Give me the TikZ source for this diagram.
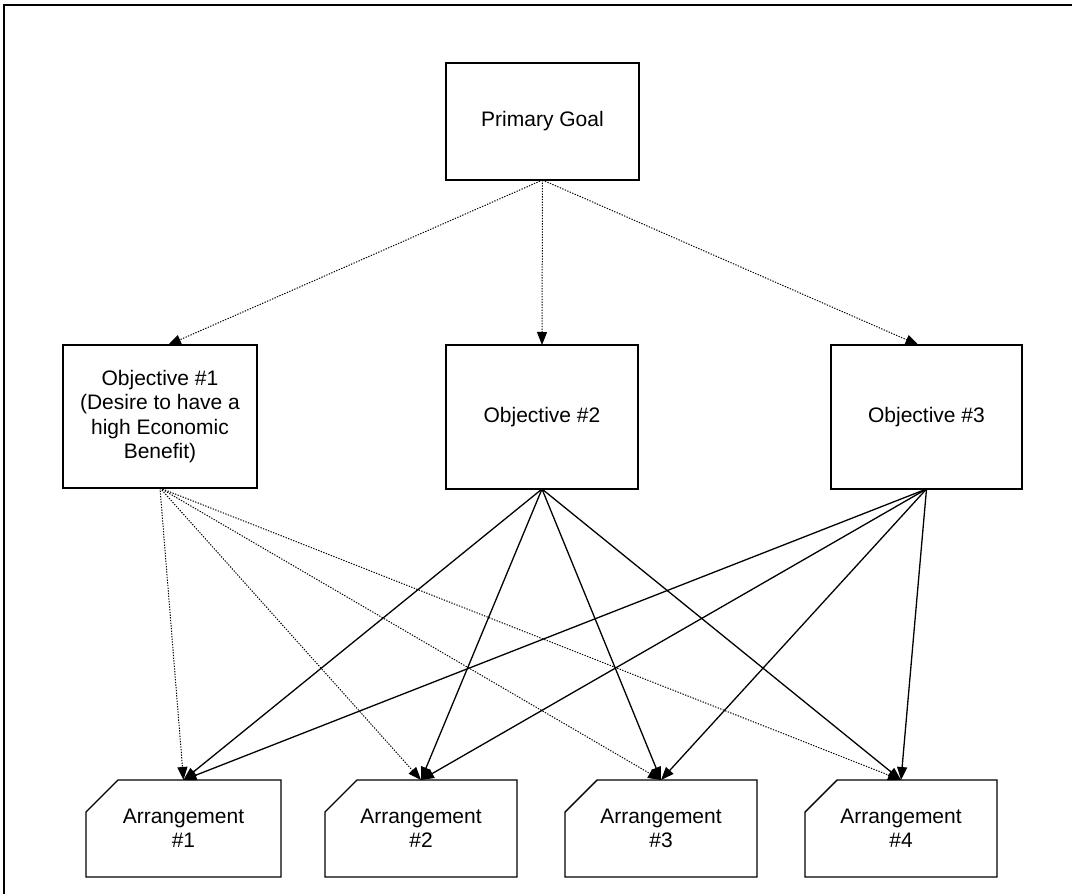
\documentclass[tikz,border=0pt]{standalone}
\usepackage{fontspec}
\setmainfont{Liberation Sans}
\usetikzlibrary{arrows.meta,calc}
\begin{document}
\begin{tikzpicture}[x=1pt,y=-1pt,
  label font/.style={font=\fontsize{21}{24.5}\selectfont},
  goalbox/.style={draw, line width=1.4pt, inner sep=0pt, outer sep=0pt,
    align=center, label font},
  arrbox/.style={inner sep=0pt, outer sep=0pt, align=center, label font,
    minimum height=97pt},
  chamfer/.style={draw, line width=1.4pt, line join=miter},
  tip/.style={-{Triangle[length=13pt,width=10pt]}},
  dotlink/.style={tip, line width=1pt, dash pattern=on 1.3pt off 1.4pt},
  solidlink/.style={tip, line width=1.3pt},
  frame/.style={draw, line width=2pt}
]
\useasboundingbox (0,0) rectangle (1072,894);
\clip (0,0) rectangle (1072,894);

% outer frame (only the top and left edges fall inside the page)
\draw[frame] (4,900) -- (4,5) -- (1090,5);

% goal and objectives
\node[goalbox, minimum width=193pt, minimum height=117pt] (pg) at (542.5,121.5) {Primary Goal};
\node[goalbox, minimum width=194pt, minimum height=143pt] (o1) at (160,416.5)
  {Objective \#1\\(Desire to have a\\high Economic\\Benefit)};
\node[goalbox, minimum width=192pt, minimum height=144pt] (o2) at (542,417) {Objective \#2};
\node[goalbox, minimum width=191pt, minimum height=144pt] (o3) at (926.5,417) {Objective \#3};

% arrangements (boxes with a cut top-left corner)
\node[arrbox, minimum width=195pt] (a1) at (183.5,828.5) {Arrangement\\\#1};
\node[arrbox, minimum width=192pt] (a2) at (421,828.5) {Arrangement\\\#2};
\node[arrbox, minimum width=192pt] (a3) at (661,828.5) {Arrangement\\\#3};
\node[arrbox, minimum width=192pt] (a4) at (901,828.5) {Arrangement\\\#4};
\foreach \a in {a1,a2,a3,a4}{
  \draw[chamfer] ($(\a.north west)+(32,0)$) -- (\a.north east) -- (\a.south east)
    -- (\a.south west) -- ($(\a.north west)+(0,32)$) -- cycle;
}

% goal to objectives
\coordinate (o1in) at ($(o1.north)+(8,0)$);
\coordinate (o3in) at ($(o3.north)+(-8,0)$);
\draw[dotlink] (pg.south) -- (o1in);
\draw[dotlink] (pg.south) -- (o2.north);
\draw[dotlink] (pg.south) -- (o3in);

% objectives to arrangements
\foreach \a in {a1,a2,a3,a4}{
  \draw[dotlink] (o1.south) -- (\a.north);
  \draw[solidlink] (o2.south) -- (\a.north);
  \draw[solidlink] (o3.south) -- (\a.north);
}
\end{tikzpicture}
\end{document}
